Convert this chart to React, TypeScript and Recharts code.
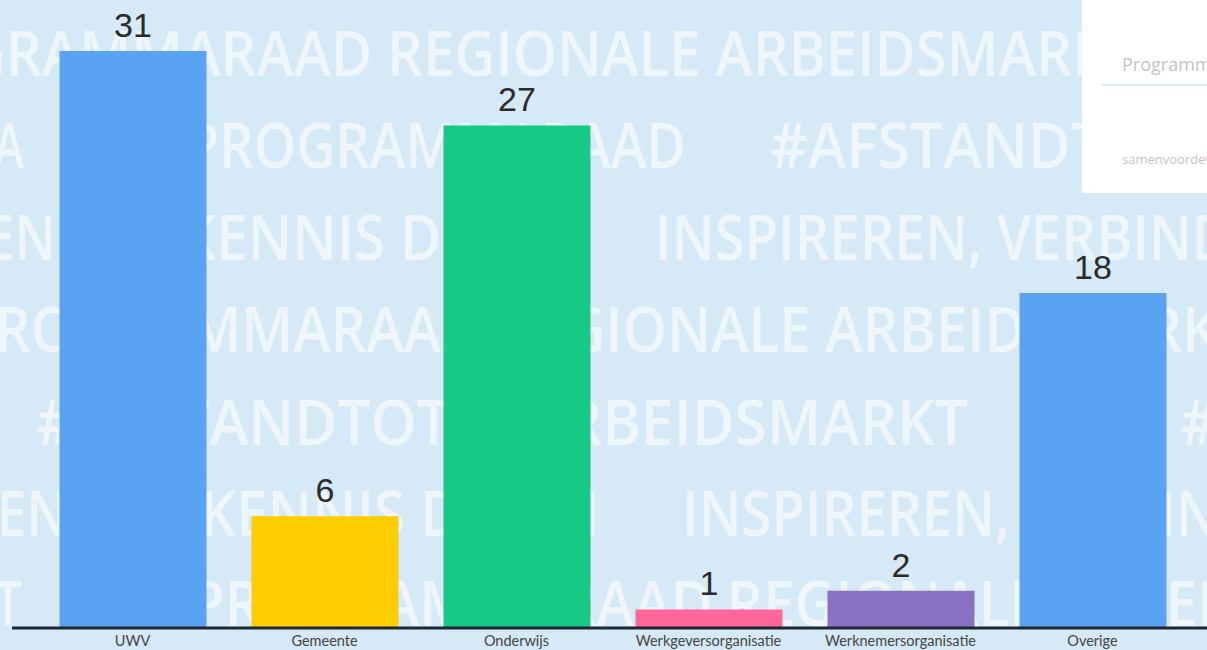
import React from "react";
import { BarChart, Bar, XAxis, YAxis, Cell, LabelList } from "recharts";

const categories = ["UWV", "Gemeente", "Onderwijs", "Werkgeversorganisatie", "Werknemersorganisatie", "Overige"];
const values = [31, 6, 27, 1, 2, 18];
const colors = ["#5aa2f2", "#fecd00", "#17c987", "#ff6699", "#8a71c5", "#5aa2f2"];

const data = categories.map((name, i) => ({ name, value: values[i] }));

const watermark: { t: string; x: number; y: number; w: number }[] = [
  { t: "PROGRAMMARAAD REGIONALE ARBEIDSMARKT", x: -150, y: 76, w: 1290 },
  { t: "A", x: -6, y: 168, w: 30 },
  { t: "PROGRAMMARAAD", x: 186, y: 168, w: 500 },
  { t: "#AFSTANDTOTDEARBEIDSMARKT", x: 770, y: 168, w: 930 },
  { t: "DELEN", x: -112, y: 260, w: 168 },
  { t: "KENNIS DELEN", x: 180, y: 260, w: 400 },
  { t: "INSPIREREN, VERBINDEN", x: 655, y: 260, w: 650 },
  { t: "PROGRAMMARAAD REGIONALE ARBEIDSMARKT", x: -40, y: 352, w: 1290 },
  { t: "#AFSTANDTOTDEARBEIDSMARKT", x: 36, y: 445, w: 932 },
  { t: "#AFSTANDTOTDEARBEIDSMARKT", x: 1180, y: 445, w: 932 },
  { t: "DELEN", x: -100, y: 536, w: 168 },
  { t: "KENNIS DELEN", x: 200, y: 536, w: 400 },
  { t: "INSPIREREN, VERBINDEN", x: 682, y: 536, w: 650 },
  { t: "T", x: -6, y: 626, w: 28 },
  { t: "PROGRAMMARAAD REGIONALE ARBEIDSMARKT", x: 190, y: 626, w: 1290 },
];

export default function App() {
  return (
    <div
      style={{
        position: "absolute",
        left: 0,
        top: 0,
        width: 1207,
        height: 650,
        overflow: "hidden",
        background: "#d5e9f6",
      }}
    >
      <svg width={1207} height={650} style={{ position: "absolute", left: 0, top: 0 }}>
        {watermark.map((w, i) => (
          <text
            key={i}
            x={w.x}
            y={w.y}
            textLength={w.w}
            lengthAdjust="spacingAndGlyphs"
            fontFamily="'Open Sans', sans-serif"
            fontWeight={600}
            fontSize={64}
            fill="#ffffff"
            fillOpacity={0.6}
          >
            {w.t}
          </text>
        ))}
      </svg>
      <div
        style={{
          position: "absolute",
          left: 1082,
          top: 0,
          width: 140,
          height: 193,
          background: "#ffffff",
          fontFamily: "'Open Sans', sans-serif",
        }}
      >
        <div style={{ position: "absolute", left: 40, top: 52, fontSize: 18, color: "#c4c4c4", whiteSpace: "nowrap" }}>
          Programmaraad
        </div>
        <div style={{ position: "absolute", left: 20, top: 84, width: 130, height: 2, background: "#d8e8f4" }} />
        <div style={{ position: "absolute", left: 40, top: 150, fontSize: 13, color: "#c4c4c4", whiteSpace: "nowrap" }}>
          samenvoordewerkgever
        </div>
      </div>
      <div style={{ position: "absolute", left: 0, top: 0 }}>
        <BarChart
          width={1207}
          height={650}
          data={data}
          margin={{ top: 51, right: 0, left: 12, bottom: 0 }}
          barSize={147}
        >
          <XAxis
            dataKey="name"
            height={22}
            padding={{ left: 24.5, right: 18.5 }}
            axisLine={{ stroke: "#1f2733", strokeWidth: 3 }}
            tickLine={false}
            tickSize={6}
            interval={0}
            tick={{ fill: "#444444", fontSize: 14.5, fontFamily: "Lato, sans-serif" }}
          />
          <YAxis hide domain={[0, 31]} />
          <Bar dataKey="value" isAnimationActive={false}>
            {data.map((d, i) => (
              <Cell key={d.name} fill={colors[i]} />
            ))}
            <LabelList
              dataKey="value"
              position="top"
              offset={14}
              fill="#2b2b2b"
              fontSize={34}
              fontFamily="'Liberation Sans', Arial, sans-serif"
            />
          </Bar>
        </BarChart>
      </div>
    </div>
  );
}
